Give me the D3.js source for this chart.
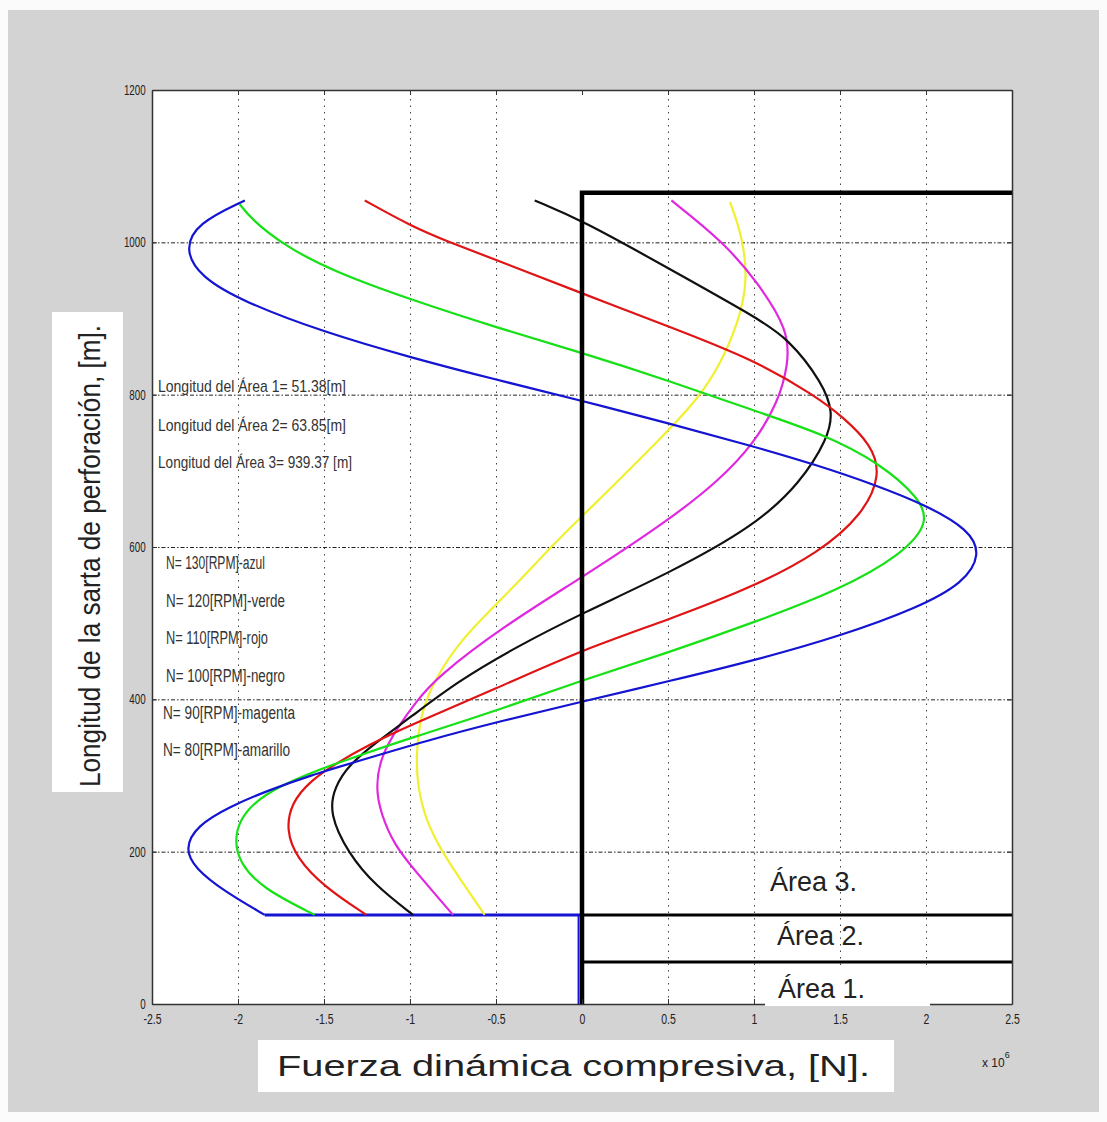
<!DOCTYPE html>
<html><head><meta charset="utf-8">
<script src="https://cdn.jsdelivr.net/npm/d3@7"></script>
<style>body{margin:0;background:#fff}svg{display:block}</style>
</head><body>
<script>
// ---- data ----
const xTicks = [-2.5,-2,-1.5,-1,-0.5,0,0.5,1,1.5,2,2.5];
const yTicks = [0,200,400,600,800,1000,1200];
const rpm = [130,120,110,100,90,80];
const colorNames = ["azul","verde","rojo","negro","magenta","amarillo"];
const areaLengths = [51.38, 63.85, 939.37];
const areaBounds = [55, 117, 1065];   // drawn limits of the areas [m]
const blue130 = [[-1.845,117],[-2.08,148],[-2.25,178],[-2.31,204],[-2.24,234],[-2.05,259],[-1.83,280],[-1.58,300],[-1.3,319],[-0.9,346],[-0.48,371],[0,397],[0.51,424],[1.0,451],[1.5,483],[1.95,520],[2.22,553],[2.32,590],[2.25,623],[2.0,655],[1.7,682],[1.36,708],[1.0,732],[0.51,762],[0,792],[-0.507,820],[-1.0,849],[-1.5,882],[-1.97,922],[-2.22,955],[-2.31,990],[-2.24,1025],[-1.96,1055]];
const green120 = [[-1.554,117],[-1.86,152],[-1.99,185],[-2.02,215],[-1.99,241],[-1.91,264],[-1.76,286],[-1.54,307],[-1.3,326],[-1.0,349],[-0.51,384],[0,425],[0.51,462],[1.0,501],[1.5,544],[1.86,590],[2.02,632],[1.96,665],[1.73,710],[1.42,747],[1.0,779],[0.51,818],[0,855],[-0.51,889],[-1.0,925],[-1.45,962],[-1.74,997],[-1.92,1030],[-1.99,1050]];
const red110 = [[-1.254,117],[-1.5,154],[-1.66,192],[-1.72,228],[-1.69,264],[-1.58,293],[-1.43,316],[-1.25,339],[-1.0,366],[-0.5,414],[0,465],[0.51,505],[1.0,548],[1.38,593],[1.63,642],[1.74,695],[1.68,735],[1.52,770],[1.36,798],[1.0,846],[0.51,889],[0,933],[-0.5,977],[-0.77,1000],[-1.0,1022],[-1.263,1055]];
const black100 = [[-0.982,117],[-1.2,155],[-1.36,198],[-1.47,250],[-1.44,285],[-1.35,315],[-1.2,343],[-1.0,376],[-0.72,424],[-0.38,469],[0,513],[0.51,566],[1.0,627],[1.27,684],[1.43,743],[1.46,777],[1.40,815],[1.2,874],[1.0,903],[0.51,965],[0,1029],[-0.275,1055]];
const magenta90 = [[-0.75,117],[-0.96,172],[-1.09,208],[-1.17,250],[-1.2,285],[-1.17,325],[-1.07,364],[-0.96,398],[-0.85,428],[-0.45,497],[0,560],[0.51,636],[0.80,688],[1.0,736],[1.14,790],[1.2,840],[1.2,885],[1.02,948],[0.82,1001],[0.52,1055]];
const yellow80 = [[-0.566,117],[-0.69,158],[-0.81,198],[-0.91,242],[-0.955,285],[-0.965,325],[-0.94,380],[-0.86,425],[-0.70,480],[-0.45,535],[-0.13,612],[0,640],[0.51,754],[0.68,797],[0.8,838],[0.91,895],[0.965,950],[0.93,1010],[0.86,1053]];
const seriesData = [blue130, green120, red110, black100, magenta90, yellow80];
const seriesColors = ["#1414d2","#16e016","#e01414","#111111","#e028e0","#f0f030"];

// ---- drawing ----
const W = 1107, H = 1122;
const svg = d3.select("body").append("svg").attr("width", W).attr("height", H);
svg.append("rect").attr("width", W).attr("height", H).attr("fill", "#fbfbfb");
svg.append("rect").attr("x", 8).attr("y", 10).attr("width", W-16).attr("height", H-20).attr("fill", "#d3d3d3");

const x = d3.scaleLinear().domain([-2.5, 2.5]).range([152, 1012]);
const y = d3.scaleLinear().domain([0, 1200]).range([1004, 90]);
const [x0, x1] = x.range(), [y0, y1] = y.range();

svg.append("rect").attr("x", x0).attr("y", y1).attr("width", x1-x0).attr("height", y0-y1).attr("fill", "#fff");

const tickFont = "'Liberation Sans Narrow','Liberation Sans',Arial,sans-serif";

// grid
const gv = svg.append("g").attr("transform", `translate(0,${y0})`)
  .call(d3.axisBottom(x).tickValues(xTicks.filter(d => d !== 0 && Math.abs(d) !== 2.5)).tickSize(-(y0-y1)).tickFormat(""));
gv.select(".domain").remove();
gv.selectAll("line").attr("stroke", "#444").attr("stroke-dasharray", "1.5,5");
const gh = svg.append("g").attr("transform", `translate(${x0},0)`)
  .call(d3.axisLeft(y).tickValues(yTicks.filter(d => d > 0 && d < 1200)).tickSize(-(x1-x0)).tickFormat(""));
gh.select(".domain").remove();
gh.selectAll("line").attr("stroke", "#222").attr("stroke-dasharray", "4,2,1.5,2");

// curves
const straight = d3.line().x(d => x(d[0])).y(d => y(d[1]));
const smooth = d3.line().x(d => x(d[0])).y(d => y(d[1])).curve(d3.curveBasis);
svg.append("path").attr("d", straight([[0.0,0],[0.0,areaBounds[1]],[blue130[0][0],areaBounds[1]]]))
  .attr("fill", "none").attr("stroke", seriesColors[0]).attr("stroke-width", 3);
seriesData.slice().reverse().forEach((s, i) => {
  const k = seriesData.length - 1 - i;
  svg.append("path").attr("d", smooth(s)).attr("fill", "none")
    .attr("stroke", seriesColors[k]).attr("stroke-width", 2.2);
});

// area boundaries (thick black)
const thick = (pts, w) => svg.append("path").attr("d", straight(pts))
  .attr("fill", "none").attr("stroke", "#000").attr("stroke-width", w);
thick([[0,0],[0,areaBounds[2]],[2.5,areaBounds[2]]], 4.5);
thick([[0,areaBounds[1]],[2.5,areaBounds[1]]], 3);
thick([[0,areaBounds[0]],[2.5,areaBounds[0]]], 3);
svg.append("line").attr("x1", x(-0.02)).attr("x2", x(-0.02)).attr("y1", y(0)).attr("y2", y(areaBounds[1]))
  .attr("stroke", seriesColors[0]).attr("stroke-width", 2);

// axes box with inward ticks
const axB = svg.append("g").attr("transform", `translate(0,${y0})`)
  .call(d3.axisBottom(x).tickValues(xTicks).tickSizeInner(-5).tickSizeOuter(0).tickFormat(d => String(d)).tickPadding(14));
const axT = svg.append("g").attr("transform", `translate(0,${y1})`)
  .call(d3.axisTop(x).tickValues(xTicks).tickSizeInner(-5).tickSizeOuter(0).tickFormat(""));
const axL = svg.append("g").attr("transform", `translate(${x0},0)`)
  .call(d3.axisLeft(y).tickValues(yTicks).tickSizeInner(-5).tickSizeOuter(0).tickFormat(d => String(d)).tickPadding(9));
const axR = svg.append("g").attr("transform", `translate(${x1},0)`)
  .call(d3.axisRight(y).tickValues(yTicks).tickSizeInner(-5).tickSizeOuter(0).tickFormat(""));
[axB, axT, axL, axR].forEach(a => {
  a.select(".domain").attr("stroke", "#333").attr("stroke-width", 1.5);
  a.selectAll(".tick line").attr("stroke", "#333");
  a.selectAll("text").attr("font-family", tickFont).attr("font-size", 14).attr("fill", "#222");
});
axB.selectAll("text").attr("transform", "scale(0.75,1)").attr("dy", "0.45em");
axL.selectAll("text").attr("font-size", 14).attr("transform", "scale(0.7,1)");

// Area labels
const areaFont = "'Liberation Sans',Arial,sans-serif";
svg.append("rect").attr("x", 765).attr("y", 968).attr("width", 165).attr("height", 38).attr("fill", "#fff");
[["Área 3.", 770, 891], ["Área 2.", 777, 945], ["Área 1.", 778, 998]].forEach(([t, tx, ty]) => {
  svg.append("text").attr("x", tx).attr("y", ty).text(t)
    .attr("font-family", areaFont).attr("font-size", 27).attr("fill", "#222");
});

// annotation texts
const annFont = "'Liberation Sans Narrow','Liberation Sans',Arial,sans-serif";
const ann = [
  [`Longitud del Área 1= ${areaLengths[0]}[m]`, 158, 392, 188],
  [`Longitud del Área 2= ${areaLengths[1]}[m]`, 158, 431, 188],
  [`Longitud del Área 3= ${areaLengths[2]} [m]`, 158, 468, 194]
];
ann.forEach(([t, tx, ty, tl]) => svg.append("text").attr("x", tx).attr("y", ty).text(t)
  .attr("font-family", annFont).attr("font-size", 17).attr("fill", "#333")
  .attr("textLength", tl).attr("lengthAdjust", "spacingAndGlyphs"));
const legX = [166,166,166,166,163,163], legY = [569,607,644,682,719,756], legW = [99,119,102,119,132,127];
rpm.forEach((r, i) => svg.append("text").attr("x", legX[i]).attr("y", legY[i])
  .text(`N= ${r}[RPM]-${colorNames[i]}`)
  .attr("font-family", annFont).attr("font-size", 18).attr("fill", "#333")
  .attr("textLength", legW[i]).attr("lengthAdjust", "spacingAndGlyphs"));

// axis titles in white boxes
svg.append("rect").attr("x", 258).attr("y", 1040).attr("width", 636).attr("height", 52).attr("fill", "#fff");
svg.append("text").attr("x", 277).attr("y", 1076).text("Fuerza dinámica compresiva, [N].")
  .attr("font-family", areaFont).attr("font-size", 30).attr("fill", "#222")
  .attr("textLength", 593).attr("lengthAdjust", "spacingAndGlyphs");
svg.append("rect").attr("x", 52).attr("y", 312).attr("width", 71).attr("height", 480).attr("fill", "#fff");
svg.append("text").attr("transform", "translate(100,787) rotate(-90)").text("Longitud de la sarta de perforación, [m].")
  .attr("font-family", areaFont).attr("font-size", 30).attr("fill", "#222")
  .attr("textLength", 462).attr("lengthAdjust", "spacingAndGlyphs");

// exponent
const ex = svg.append("text").attr("x", 982).attr("y", 1067).attr("font-family", tickFont).attr("font-size", 12).attr("fill", "#222");
ex.append("tspan").text("x 10");
ex.append("tspan").attr("dy", -9).attr("font-size", 9).text("6");
</script>
</body></html>
